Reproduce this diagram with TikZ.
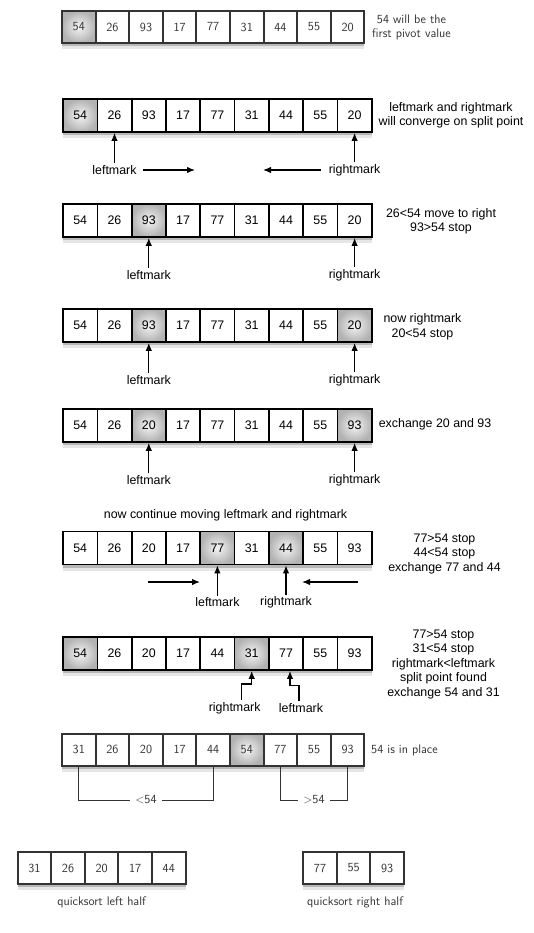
\documentclass[tikz,border=0pt]{standalone}
\usepackage{fontspec}
\newfontfamily\arialfont{Liberation Sans}
\usetikzlibrary{positioning,shadows,arrows.meta}
\newcommand\hv{\arialfont\fontsize{12.4pt}{14.5pt}\selectfont}
\newcommand\cms{\sffamily\fontsize{12.4pt}{13.8pt}\selectfont}
\definecolor{ink}{gray}{0.2}
\tikzset{
  box/.style={draw=black, line width=1.7pt, fill=white, minimum width=34.3pt,
    minimum height=33pt, inner sep=0pt, font=\hv,
    drop shadow={shadow xshift=0pt, shadow yshift=-3pt, opacity=.45},
    drop shadow={shadow xshift=0pt, shadow yshift=-6pt, opacity=.2}},
  sbox/.style={box, node distance=33.6pt, minimum width=33.6pt, minimum height=32pt,
    draw=ink, text=ink, line width=2pt, font=\cms},
  hot/.style={shading=radial, inner color=gray!8, outer color=gray!60},
  lab/.style={font=\hv, node distance=54.5pt, inner sep=2pt},
  note/.style={font=\hv, align=center},
  snote/.style={font=\cms, text=ink, align=center},
  arr/.style={-{Latex[length=8pt,width=6.5pt]}, line width=1.3pt},
  brk/.style={draw=ink, line width=1pt}
}
\begin{document}
\begin{tikzpicture}[x=1pt, y=-1pt, node distance=34.3pt]
      \useasboundingbox (0,0) rectangle (533,933);
      % first pivot
      \node (A1) [sbox, hot] at (78.8,27) {54};
      \node (A2) [sbox, right of=A1] {26};
      \node (A3) [sbox, right of=A2] {93};
      \node (A4) [sbox, right of=A3] {17};
      \node (A5) [sbox, right of=A4] {77};
      \node (A6) [sbox, right of=A5] {31};
      \node (A7) [sbox, right of=A6] {44};
      \node (A8) [sbox, right of=A7] {55};
      \node (A9) [sbox, right of=A8] {20};
      \node (nA) [snote] at (411.5,27.5) {54 will be the\\first pivot value};
      % converge
      \node (B1) [box, hot] at (80.2,115.5) {54};
      \node (B2) [box, right of=B1] {26};
      \node (B3) [box, right of=B2] {93};
      \node (B4) [box, right of=B3] {17};
      \node (B5) [box, right of=B4] {77};
      \node (B6) [box, right of=B5] {31};
      \node (B7) [box, right of=B6] {44};
      \node (B8) [box, right of=B7] {55};
      \node (B9) [box, right of=B8] {20};
      \node (nB) [note] at (451,115.5) {leftmark and rightmark\\will converge on split point};
      \node (lB) [lab, below of=B2] {leftmark};
      \node (rB) [lab, below of=B9] {rightmark};
      \coordinate (hB1) at (195,170);
      \coordinate (hB2) at (263,170);
      \draw[arr] (lB) -- (B2);
      \draw[arr] (rB) -- (B9);
      \draw[arr] ([xshift=4pt]lB.east) -- (hB1);
      \draw[arr] ([xshift=-6pt]rB.west) -- (hB2);
      % move right
      \node (C1) [box] at (80.2,220.5) {54};
      \node (C2) [box, right of=C1] {26};
      \node (C3) [box, hot, right of=C2] {93};
      \node (C4) [box, right of=C3] {17};
      \node (C5) [box, right of=C4] {77};
      \node (C6) [box, right of=C5] {31};
      \node (C7) [box, right of=C6] {44};
      \node (C8) [box, right of=C7] {55};
      \node (C9) [box, right of=C8] {20};
      \node (nC) [note] at (441,221.5) {26<54 move to right\\93>54 stop};
      \node (lC) [lab, below of=C3] {leftmark};
      \node (rC) [lab, below of=C9] {rightmark};
      \draw[arr] (lC) -- (C3);
      \draw[arr] (rC) -- (C9);
      % rightmark stops
      \node (D1) [box] at (80.2,325.5) {54};
      \node (D2) [box, right of=D1] {26};
      \node (D3) [box, hot, right of=D2] {93};
      \node (D4) [box, right of=D3] {17};
      \node (D5) [box, right of=D4] {77};
      \node (D6) [box, right of=D5] {31};
      \node (D7) [box, right of=D6] {44};
      \node (D8) [box, right of=D7] {55};
      \node (D9) [box, hot, right of=D8] {20};
      \node (nD) [note] at (422.5,327) {now rightmark\\20<54 stop};
      \node (lD) [lab, below of=D3] {leftmark};
      \node (rD) [lab, below of=D9] {rightmark};
      \draw[arr] (lD) -- (D3);
      \draw[arr] (rD) -- (D9);
      % exchange
      \node (E1) [box] at (80.2,425.5) {54};
      \node (E2) [box, right of=E1] {26};
      \node (E3) [box, hot, right of=E2] {20};
      \node (E4) [box, right of=E3] {17};
      \node (E5) [box, right of=E4] {77};
      \node (E6) [box, right of=E5] {31};
      \node (E7) [box, right of=E6] {44};
      \node (E8) [box, right of=E7] {55};
      \node (E9) [box, hot, right of=E8] {93};
      \node (nE) [note] at (435,424) {exchange 20 and 93};
      \node (lE) [lab, below of=E3] {leftmark};
      \node (rE) [lab, below of=E9] {rightmark};
      \draw[arr] (lE) -- (E3);
      \draw[arr] (rE) -- (E9);
      % continue
      \node (tF) [note] at (225.5,515) {now continue moving leftmark and rightmark};
      \node (F1) [box] at (80.2,548) {54};
      \node (F2) [box, right of=F1] {26};
      \node (F3) [box, right of=F2] {20};
      \node (F4) [box, right of=F3] {17};
      \node (F5) [box, hot, right of=F4] {77};
      \node (F6) [box, right of=F5] {31};
      \node (F7) [box, hot, right of=F6] {44};
      \node (F8) [box, right of=F7] {55};
      \node (F9) [box, right of=F8] {93};
      \node (nF) [note] at (444.5,554) {77>54 stop\\44<54 stop\\exchange 77 and 44};
      \node (lF) [lab, below of=F5] {leftmark};
      \node (rF) [lab, below of=F7] {rightmark};
      \coordinate (fA) at (148,582);
      \coordinate (fB) at (200,582);
      \coordinate (fC) at (358,582);
      \coordinate (fD) at (302,582);
      \draw[arr] (lF) -- (F5);
      \draw[arr] (rF) -- (F7);
      \draw[arr] (fA) -- (fB);
      \draw[arr] (fC) -- (fD);
      % split point
      \node (G1) [box, hot] at (80.2,653.5) {54};
      \node (G2) [box, right of=G1] {26};
      \node (G3) [box, right of=G2] {20};
      \node (G4) [box, right of=G3] {17};
      \node (G5) [box, right of=G4] {44};
      \node (G6) [box, hot, right of=G5] {31};
      \node (G7) [box, right of=G6] {77};
      \node (G8) [box, right of=G7] {55};
      \node (G9) [box, right of=G8] {93};
      \node (nG) [note] at (443.5,664.5) {77>54 stop\\31<54 stop\\rightmark<leftmark\\split point found\\exchange 54 and 31};
      \node (rG) [lab, below of=G6, xshift=-17pt] {rightmark};
      \node (lG) [lab, below of=G7, xshift=15pt] {leftmark};
      \draw[arr] ([xshift=7pt]rG.north) -- ++(0,-16) -| (G6.south);
      \draw[arr] ([xshift=-2pt]lG.north) -- ++(0,-16) -| ([xshift=4pt]G7.south);
      % in place
      \node (H1) [sbox] at (78.8,749.5) {31};
      \node (H2) [sbox, right of=H1] {26};
      \node (H3) [sbox, right of=H2] {20};
      \node (H4) [sbox, right of=H3] {17};
      \node (H5) [sbox, right of=H4] {44};
      \node (H6) [sbox, hot, right of=H5] {54};
      \node (H7) [sbox, right of=H6] {77};
      \node (H8) [sbox, right of=H7] {55};
      \node (H9) [sbox, right of=H8] {93};
      \node (nH) [snote] at (404.5,750.5) {54 is in place};
      \draw[brk] (H1.south) -- ++(0,33.5) -| node[pos=.25, fill=white, font=\cms, text=ink, inner xsep=5pt] {$<$54} (H5.south);
      \draw[brk] (H7.south) -- ++(0,33.5) -| node[pos=.25, fill=white, font=\cms, text=ink, inner xsep=5pt] {$>$54} (H9.south);
      % halves
      \node (L1) [sbox] at (34.4,868) {31};
      \node (L2) [sbox, right of=L1] {26};
      \node (L3) [sbox, right of=L2] {20};
      \node (L4) [sbox, right of=L3] {17};
      \node (L5) [sbox, right of=L4] {44};
      \node (R1) [sbox] at (320,868) {77};
      \node (R2) [sbox, right of=R1] {55};
      \node (R3) [sbox, right of=R2] {93};
      \node (qL) [snote, node distance=34.3pt, below of=L3] {quicksort left half};
      \node (qR) [snote, node distance=34.3pt, below of=R2, xshift=1.5pt] {quicksort right half};
\end{tikzpicture}
\end{document}
